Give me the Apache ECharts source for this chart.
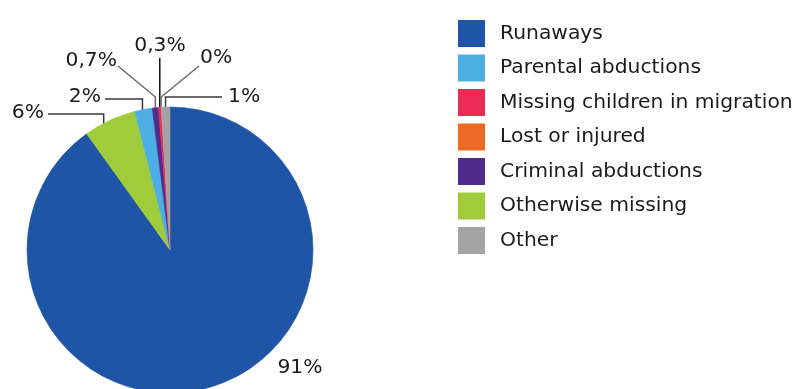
<!DOCTYPE html>
<html>
<head>
<meta charset="utf-8">
<script src="https://cdn.jsdelivr.net/npm/echarts@6/dist/echarts.min.js"></script>
<style>
  html, body { margin: 0; padding: 0; background: #ffffff; }
  #chart { width: 797px; height: 389px; }
</style>
</head>
<body>
<div id="chart"></div>
<script>
// Slices in clockwise order from 12 o'clock
const categories = ['Runaways', 'Otherwise missing', 'Parental abductions', 'Criminal abductions',
                    'Missing children in migration', 'Lost or injured', 'Other'];
const values = [91, 6, 2, 0.7, 0.3, 0, 1];
// Legend order
const legendOrder = ['Runaways', 'Parental abductions', 'Missing children in migration',
                     'Lost or injured', 'Criminal abductions', 'Otherwise missing', 'Other'];

const colorOf = {
  'Runaways': '#1f55a6',
  'Parental abductions': '#4caee2',
  'Missing children in migration': '#ec2b55',
  'Lost or injured': '#ea6a26',
  'Criminal abductions': '#4f2b8b',
  'Otherwise missing': '#a0cb3a',
  'Other': '#a3a3a3'
};

const FONT = 'DejaVu Sans';
const TEXT = '#1e1a1b';
const CX = 170, CY = 250, R = 143;

// Callout placement per slice, offsets from the pie centre:
// t = text anchor, e = end of leader line next to the text, k = y of the bend (null = straight),
// dx = horizontal nudge of the bend
const callouts = [
  { t: [130, 118], align: 'center', line: false },                                 // Runaways
  { t: [-126, -137], align: 'right', e: [-122, -136], k: -136, dx: -6 },           // Otherwise missing
  { t: [-69, -153], align: 'right', e: [-65, -151], k: -151, dx: -1 },             // Parental abductions
  { t: [-53, -189], align: 'right', e: [-52, -184], k: -153, c: '#6b6b6b' },       // Criminal abductions
  { t: [-10, -204], align: 'center', e: [-10, -192], k: null, c: '#111' },         // Migration
  { t: [30, -192], align: 'left', e: [29, -184], k: -153, c: '#6b6b6b' },          // Lost or injured
  { t: [58, -153], align: 'left', e: [52, -153], k: -153 }                         // Other
];

function pctText(v) {
  return String(v).replace('.', ',') + '%';
}

const chart = echarts.init(document.getElementById('chart'), null, { renderer: 'canvas' });

chart.setOption({
  animation: false,
  color: categories.map(c => colorOf[c]),
  legend: {
    data: legendOrder,
    orient: 'vertical',
    left: 453,
    top: 15,
    itemWidth: 27,
    itemHeight: 27,
    itemGap: 7.5,
    icon: 'rect',
    selectedMode: false,
    itemStyle: { borderWidth: 0 },
    textStyle: { fontFamily: FONT, fontSize: 20.3, color: TEXT, padding: [0, 0, 0, 10] }
  },
  series: [{
    type: 'pie',
    center: [CX, CY],
    radius: R,
    startAngle: 90,
    clockwise: true,
    avoidLabelOverlap: false,
    minShowLabelAngle: 0,
    emphasis: { disabled: true },
    data: categories.map((name, i) => ({
      name: name,
      value: values[i],
      // same-colour hairline closes the anti-aliasing seams between slices
      itemStyle: { borderColor: colorOf[name], borderWidth: values[i] > 0 ? 0.6 : 0 },
      labelLine: {
        show: callouts[i].line !== false,
        lineStyle: { color: callouts[i].c || '#3a3a3a', width: 1.5 }
      }
    })),
    label: {
      show: true,
      position: 'outside',
      formatter: p => pctText(p.value),
      fontFamily: FONT,
      fontSize: 20.3,
      color: TEXT
    },
    labelLine: { show: true, smooth: false },
    labelLayout: function (p) {
      const s = callouts[p.dataIndex];
      const out = {
        x: CX + s.t[0],
        y: CY + s.t[1],
        align: s.align,
        verticalAlign: 'middle',
        hideOverlap: false,
        moveOverlap: null
      };
      if (s.line !== false && p.labelLinePoints) {
        const a = p.labelLinePoints[0];
        const bx = a[0] + (s.dx || 0);
        // keep the start of the leader on the circle when nudged sideways
        const by = s.dx ? CY - Math.sqrt(R * R - (bx - CX) * (bx - CX)) + 1 : a[1];
        const pts = [[bx, by]];
        if (s.k !== null) pts.push([bx, CY + s.k]);
        pts.push([s.k === null ? bx : CX + s.e[0], CY + s.e[1]]);
        out.labelLinePoints = pts;
      }
      return out;
    }
  }]
});
</script>
</body>
</html>
